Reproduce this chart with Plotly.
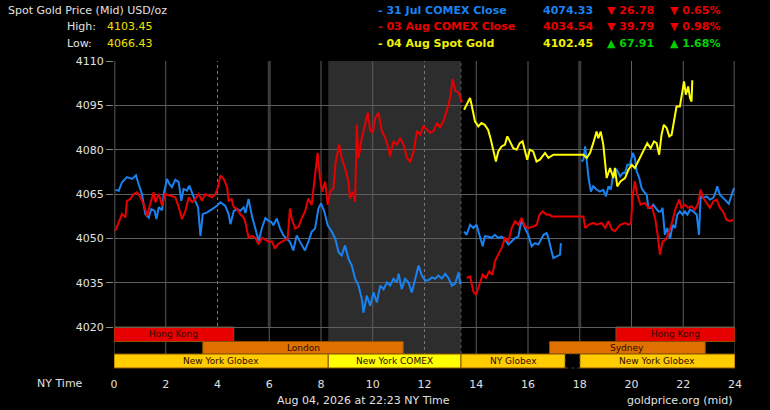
import plotly.graph_objects as go

# 31 Jul COMEX close line (blue)
blue_x = [0.05, 0.18, 0.31, 0.5, 0.7, 0.85, 0.95, 1.08, 1.21, 1.34, 1.44, 1.57, 1.64, 1.73, 1.86, 1.92,
          2.05, 2.14, 2.24, 2.37, 2.5, 2.6, 2.69, 2.82, 2.91, 3.02, 3.14, 3.25, 3.34, 3.43, 3.6, 3.79,
          3.98, 4.11, 4.3, 4.43, 4.5, 4.63, 4.76, 4.88, 5.01, 5.08, 5.2, 5.33, 5.46, 5.59, 5.72, 5.85,
          5.98, 6.08, 6.16, 6.29, 6.42, 6.55, 6.67, 6.8, 6.93, 7.06, 7.19, 7.38, 7.51, 7.64, 7.77, 7.9,
          8.0, 8.13, 8.26, 8.42, 8.55, 8.68, 8.8, 8.93, 9.06, 9.19, 9.32, 9.45, 9.58, 9.64, 9.77, 9.9,
          10.03, 10.16, 10.29, 10.42, 10.55, 10.67, 10.8, 10.93, 11.0, 11.12, 11.25, 11.38, 11.51, 11.64,
          11.77, 11.9, 12.03, 12.16, 12.29, 12.41, 12.54, 12.67, 12.8, 12.93, 13.06, 13.19, 13.32, 13.38,
          13.42, None,
          13.53, 13.63, 13.76, 13.89, 14.01, 14.12, 14.25, 14.33, 14.46, 14.59, 14.72, 14.85, 14.98,
          15.11, 15.24, 15.37, 15.5, 15.63, 15.75, 15.88, 16.01, 16.14, 16.27, 16.4, 16.47, 16.6, 16.72,
          16.79, 16.88, 16.98, 17.11, 17.24, 17.27, None,
          18.07, 18.14, 18.21, 18.27, 18.34, 18.43, 18.52, 18.65, 18.78, 18.91, 19.01, 19.11, 19.2, 19.3,
          19.43, 19.56, 19.66, 19.75, 19.84, 19.94, 20.05, 20.13, 20.2, 20.3, 20.39, 20.48, 20.59, 20.65,
          20.74, 20.84, 20.94, 21.04, 21.13, 21.2, 21.29, 21.38, 21.49, 21.59, 21.68, 21.77, 21.87, 21.97,
          22.06, 22.16, 22.26, 22.39, 22.52, 22.61, 22.67, 22.77, 22.9, 23.03, 23.16, 23.26, 23.31, 23.42,
          23.54, 23.67, 23.76, 23.87, 23.96]
blue_y = [4066.4, 4066.1, 4069.0, 4070.7, 4070.1, 4071.3, 4068.4, 4065.0, 4058.2, 4057.0, 4059.9, 4059.3,
          4056.5, 4060.5, 4059.5, 4065.0, 4070.1, 4068.4, 4067.3, 4069.8, 4069.0, 4062.7, 4066.7, 4066.1,
          4067.8, 4065.0, 4062.7, 4060.5, 4050.8, 4058.2, 4058.8, 4059.9, 4061.0, 4062.2, 4061.0, 4058.2,
          4054.8, 4059.3, 4059.9, 4059.3, 4060.5, 4058.6, 4063.3, 4057.6, 4053.6, 4049.1, 4053.6, 4056.8,
          4055.9, 4055.5, 4054.4, 4056.7, 4053.3, 4051.0, 4049.9, 4048.8, 4045.9, 4051.0, 4048.8, 4045.9,
          4048.8, 4052.2, 4053.3, 4060.1, 4061.8, 4059.0, 4054.4, 4052.2, 4049.9, 4045.3, 4044.2, 4047.6,
          4043.1, 4040.8, 4036.3, 4034.0, 4029.4, 4024.9, 4030.6, 4027.2, 4031.7, 4028.3, 4034.0, 4032.8,
          4035.1, 4034.0, 4036.3, 4035.1, 4038.0, 4032.8, 4036.3, 4035.1, 4031.7, 4036.3, 4040.8, 4037.4,
          4035.7, 4035.9, 4036.8, 4036.3, 4037.4, 4036.4, 4038.0, 4036.5, 4034.0, 4034.8, 4038.5, 4034.5,
          4035.2, None,
          4052.3, 4051.2, 4054.6, 4053.5, 4054.6, 4051.2, 4047.3, 4050.7, 4050.6, 4050.1, 4051.2, 4050.1,
          4050.6, 4049.6, 4047.9, 4049.0, 4050.1, 4050.6, 4056.4, 4053.5, 4051.2, 4047.3, 4048.4, 4047.9,
          4049.0, 4051.2, 4051.8, 4050.1, 4046.7, 4043.3, 4043.9, 4044.5, 4048.4, None,
          4076.0, 4076.6, 4081.1, 4075.5, 4070.4, 4065.8, 4067.6, 4066.5, 4065.8, 4066.4, 4064.2, 4067.6,
          4066.5, 4072.1, 4073.2, 4070.9, 4072.1, 4072.1, 4074.9, 4074.9, 4078.9, 4077.2, 4072.7, 4070.4,
          4067.0, 4065.8, 4064.7, 4060.3, 4060.3, 4061.4, 4060.3, 4059.1, 4059.1, 4060.3, 4051.2, 4053.5,
          4049.9, 4054.6, 4053.5, 4058.0, 4059.1, 4058.0, 4059.1, 4058.0, 4059.7, 4059.1, 4058.0, 4051.2,
          4064.2, 4063.7, 4064.2, 4063.1, 4063.7, 4065.8, 4067.6, 4064.7, 4063.7, 4062.5, 4061.7, 4064.7,
          4067.0]

# 03 Aug COMEX close line (red)
red_x = [0.05, 0.18, 0.31, 0.44, 0.5, 0.63, 0.76, 0.89, 1.02, 1.15, 1.28, 1.4, 1.53, 1.6, 1.73, 1.86,
         1.98, 2.18, 2.37, 2.5, 2.63, 2.76, 2.89, 3.02, 3.14, 3.27, 3.4, 3.53, 3.66, 3.79, 3.92, 4.02,
         4.11, 4.24, 4.37, 4.43, 4.54, 4.63, 4.76, 4.88, 5.01, 5.08, 5.2, 5.33, 5.46, 5.59, 5.72, 5.85,
         5.98, 6.1, 6.22, 6.35, 6.48, 6.61, 6.71, 6.8, 6.87, 7.0, 7.13, 7.25, 7.38, 7.51, 7.64, 7.77,
         7.87, 7.96, 8.05, 8.16, 8.26, 8.35, 8.48, 8.57, 8.7, 8.8, 8.93, 9.06, 9.12, 9.22, 9.32, 9.38,
         9.45, 9.58, 9.71, 9.81, 9.9, 10.0, 10.1, 10.22, 10.35, 10.48, 10.61, 10.67, 10.8, 10.93, 11.06,
         11.19, 11.32, 11.45, 11.58, 11.71, 11.84, 11.96, 12.09, 12.22, 12.35, 12.48, 12.6, 12.73, 12.86,
         12.99, 13.09, 13.19, 13.32, 13.45, None,
         13.63, 13.76, 13.89, 13.99, 14.12, 14.25, 14.37, 14.5, 14.63, 14.72, 14.85, 14.98, 15.11, 15.24,
         15.37, 15.5, 15.63, 15.75, 15.88, 16.01, 16.21, 16.34, 16.44, 16.57, 16.72, 16.85, 16.92, 18.14,
         18.21, 18.34, 18.52, 18.65, 18.85, 18.98, 19.11, 19.24, 19.36, 19.56, 19.75, 19.88, 19.98, 20.05,
         20.13, 20.22, 20.35, 20.52, 20.65, 20.78, 20.91, 21.01, 21.1, 21.2, 21.33, 21.46, 21.58, 21.71,
         21.84, 21.93, 22.06, 22.19, 22.32, 22.45, 22.58, 22.67, 22.77, 22.9, 23.03, 23.16, 23.29, 23.42,
         23.54, 23.67, 23.8, 23.93]
red_y = [4052.5, 4055.3, 4058.2, 4057.0, 4062.7, 4063.3, 4065.0, 4065.6, 4063.9, 4061.6, 4057.6, 4061.6,
         4065.6, 4062.2, 4065.0, 4061.0, 4065.0, 4064.4, 4063.9, 4060.5, 4056.5, 4059.3, 4063.9, 4062.2,
         4063.3, 4065.0, 4062.7, 4065.0, 4064.4, 4063.9, 4065.0, 4067.3, 4071.3, 4070.1, 4067.3, 4062.7,
         4063.3, 4060.5, 4059.9, 4058.2, 4057.0, 4055.3, 4050.2, 4050.8, 4050.2, 4048.0, 4050.2, 4049.5,
         4048.8, 4049.0, 4046.5, 4048.2, 4048.8, 4049.3, 4049.9, 4060.1, 4056.7, 4053.3, 4053.9, 4056.7,
         4059.0, 4063.5, 4061.3, 4071.5, 4078.9, 4070.3, 4065.8, 4069.2, 4061.3, 4065.8, 4066.9, 4076.0,
         4081.7, 4077.2, 4073.8, 4069.2, 4063.5, 4065.8, 4062.4, 4088.5, 4077.2, 4084.0, 4088.5, 4092.5,
         4086.8, 4085.7, 4090.8, 4092.5, 4086.3, 4084.0, 4080.6, 4077.7, 4082.8, 4081.7, 4084.0, 4081.7,
         4077.2, 4076.0, 4079.4, 4086.3, 4085.1, 4088.0, 4086.8, 4085.7, 4086.3, 4089.1, 4087.4, 4089.7,
         4093.1, 4097.6, 4103.9, 4099.9, 4099.3, 4095.9, None,
         4036.6, 4037.1, 4032.0, 4030.9, 4034.3, 4037.7, 4036.6, 4038.8, 4037.7, 4042.2, 4044.5, 4046.7,
         4050.1, 4049.0, 4053.5, 4055.8, 4054.6, 4056.9, 4054.1, 4053.5, 4054.0, 4054.6, 4058.0, 4059.1,
         4058.0, 4058.0, 4057.4, 4057.4, 4053.5, 4054.6, 4055.2, 4054.6, 4055.2, 4053.5, 4055.8, 4053.0,
         4052.4, 4054.6, 4055.2, 4054.6, 4055.2, 4064.8, 4069.3, 4064.8, 4061.4, 4062.0, 4060.3, 4060.9,
         4056.9, 4051.3, 4044.5, 4049.0, 4049.6, 4052.4, 4055.8, 4060.3, 4063.1, 4060.3, 4061.4, 4060.3,
         4060.9, 4059.7, 4062.0, 4066.5, 4063.7, 4062.0, 4060.3, 4062.5, 4063.1, 4060.3, 4059.1, 4056.3,
         4055.8, 4056.3]

# 04 Aug spot gold (yellow)
yellow_x = [13.53, 13.63, 13.76, 13.82, 13.95, 14.08, 14.2, 14.33, 14.46, 14.55, 14.66, 14.76, 14.85,
            14.98, 15.11, 15.2, 15.3, 15.43, 15.56, 15.68, 15.79, 15.88, 15.97, 16.07, 16.2, 16.33, 16.46,
            16.66, 16.79, 16.98, 18.14, 18.27, 18.4, 18.52, 18.65, 18.72, 18.81, 18.91, 19.04, 19.17, 19.3,
            19.36, 19.45, 19.58, 19.75, 19.88, 20.01, 20.13, 20.26, 20.39, 20.52, 20.61, 20.74, 20.87, 20.97,
            21.07, 21.16, 21.25, 21.36, 21.46, 21.55, 21.64, 21.74, 21.87, 21.97, 22.03, 22.1, 22.19, 22.26,
            22.32, 22.35]
yellow_y = [4093.5, 4095.2, 4097.5, 4095.2, 4089.6, 4087.9, 4089.0, 4088.4, 4086.7, 4083.9, 4079.4, 4076.0,
            4079.4, 4081.1, 4081.7, 4084.5, 4082.8, 4080.5, 4080.0, 4082.2, 4082.8, 4079.4, 4076.6, 4080.0,
            4079.4, 4076.0, 4076.6, 4078.9, 4077.2, 4078.3, 4078.3, 4077.2, 4078.9, 4082.2, 4086.1, 4083.9,
            4086.1, 4081.7, 4070.4, 4073.8, 4070.4, 4073.8, 4067.6, 4069.3, 4070.4, 4073.2, 4074.9, 4073.8,
            4076.0, 4078.3, 4080.5, 4082.2, 4080.5, 4082.8, 4082.2, 4078.3, 4085.0, 4088.4, 4087.3, 4084.5,
            4085.0, 4089.6, 4094.6, 4094.6, 4099.7, 4103.1, 4098.6, 4101.4, 4097.5, 4096.3, 4103.5]

# market sessions: name, start hour, end hour, row (0 top .. 2 bottom)
sessions = [("Hong Kong", 0, 4.63, 0), ("Hong Kong", 19.4, 24, 0),
            ("London", 3.43, 11.18, 1), ("Sydney", 16.83, 22.85, 1),
            ("New York Globex", 0, 8.28, 2), ("New York COMEX", 8.28, 13.41, 2),
            ("NY Globex", 13.41, 17.44, 2), ("New York Globex", 18.0, 24, 2)]
session_colors = {"Hong Kong": "#e60000", "London": "#e07000", "Sydney": "#e07000",
                  "New York Globex": "#ffcc00", "NY Globex": "#ffcc00", "New York COMEX": "#ffff00"}

y_ticks = [4020, 4035, 4050, 4065, 4080, 4095, 4110]
x_ticks = list(range(0, 25, 2))

W, H = 770, 410
L, R, T, B = 114, 35, 61, 42


def px(x):
    return (x - L) / (W - L - R)


def py(y):
    return (H - B - y) / (H - T - B)


fig = go.Figure()
fig.add_trace(go.Scatter(x=blue_x, y=blue_y, mode="lines", line=dict(color="#1a82f0", width=2)))
fig.add_trace(go.Scatter(x=red_x, y=red_y, mode="lines", line=dict(color="#e80000", width=2)))
fig.add_trace(go.Scatter(x=yellow_x, y=yellow_y, mode="lines", line=dict(color="#ffff00", width=2)))

shapes = []
# shaded COMEX window
shapes.append(dict(type="rect", xref="x", yref="paper", x0=8.28, x1=13.41, y0=py(354), y1=1,
                   fillcolor="#2d2d2d", line_width=0, layer="below"))
# vertical grid
for h in x_ticks:
    if h in (0, 6, 18, 24):
        shapes.append(dict(type="line", xref="x", yref="paper", x0=h, x1=h, y0=py(327), y1=1,
                           line=dict(color="#3a3a3a", width=3), layer="below"))
        shapes.append(dict(type="line", xref="x", yref="paper", x0=h, x1=h, y0=0, y1=py(327),
                           line=dict(color="#5e5e5e", width=1), layer="below"))
    elif h in (4, 12):
        shapes.append(dict(type="line", xref="x", yref="paper", x0=h, x1=h, y0=0, y1=1,
                           line=dict(color="#777777", width=1, dash="dot"), layer="below"))
    else:
        shapes.append(dict(type="line", xref="x", yref="paper", x0=h, x1=h, y0=0, y1=1,
                           line=dict(color="#5e5e5e", width=1), layer="below"))
shapes.append(dict(type="line", xref="x", yref="paper", x0=13.41, x1=13.41, y0=py(354), y1=1,
                   line=dict(color="#555555", width=1, dash="dot"), layer="below"))

rows = [(327, 341.5), (341.5, 354), (354, 368)]
annotations = []
for name, s, e, r in sessions:
    top, bot = rows[r]
    shapes.append(dict(type="rect", xref="x", yref="paper", x0=s, x1=e, y0=py(bot), y1=py(top),
                       fillcolor=session_colors[name], line=dict(color="#8a5200", width=1),
                       layer="between"))
    annotations.append(dict(x=(s + e) / 2, y=py((top + bot) / 2), xref="x", yref="paper",
                            xanchor="center", yanchor="middle", text=name, showarrow=False,
                            font=dict(size=9, color="#2a0a00")))
# gap box in NY row
shapes.append(dict(type="rect", xref="x", yref="paper", x0=17.44, x1=18.0, y0=py(368), y1=py(354),
                   fillcolor="#000000", line=dict(color="#444444", width=1, dash="dot"), layer="between"))


def txt(x, y, s, color, size=11, anchor="left", bold=False):
    if bold:
        s = "<b>" + s + "</b>"
    annotations.append(dict(x=px(x), y=py(y), xref="paper", yref="paper", text=s, showarrow=False,
                            xanchor=anchor, yanchor="middle", font=dict(size=size, color=color)))


txt(6, 11, "Spot Gold Price (Mid) USD/oz", "#e0e0e0")
txt(65, 27, "High:", "#e0e0e0")
txt(105, 27, "4103.45", "#f0e000")
txt(65, 44, "Low:", "#e0e0e0")
txt(105, 44, "4066.43", "#f0e000")

legend_rows = [("- 31 Jul COMEX Close", "#1a82f0", "4074.33", "▼ 26.78", "▼ 0.65%", "#e80000", 11),
               ("- 03 Aug COMEX Close", "#e80000", "4034.54", "▼ 39.79", "▼ 0.98%", "#e80000", 27),
               ("- 04 Aug Spot Gold", "#f0f000", "4102.45", "▲ 67.91", "▲ 1.68%", "#00d000", 44)]
for label, c, price, chg, pct, cc, yy in legend_rows:
    txt(376, yy, label, c, bold=True)
    txt(595, yy, price, c, anchor="right", bold=True)
    txt(605, yy, chg, cc, bold=True)
    txt(668, yy, pct, cc, bold=True)

txt(85, 383, "NY Time", "#e0e0e0", anchor="right")
txt(363, 400, "Aug 04, 2026 at 22:23 NY Time", "#e0e0e0", anchor="center")
txt(735, 400, "goldprice.org (mid)", "#e0e0e0", anchor="right")

fig.update_layout(
    width=W, height=H,
    margin=dict(l=L, r=R, t=T, b=B),
    paper_bgcolor="#000000", plot_bgcolor="#000000",
    font=dict(family="DejaVu Sans", size=11, color="#e0e0e0"),
    showlegend=False,
    shapes=shapes, annotations=annotations,
    xaxis=dict(range=[0, 24], tickvals=x_ticks, showgrid=False, zeroline=False, showline=False,
               ticks="", ticklabelstandoff=8, tickfont=dict(size=11, color="#e0e0e0")),
    yaxis=dict(range=[4020 - 41 / 2.956, 4110], tickvals=y_ticks, showgrid=True, gridcolor="#5e5e5e",
               gridwidth=1, zeroline=False, showline=False, ticks="outside", ticklen=7,
               tickcolor="#888888", tickfont=dict(size=11, color="#e0e0e0")),
)
fig.write_html("out.html", config={"displayModeBar": False},
               post_script="document.body.style.margin='0';")
